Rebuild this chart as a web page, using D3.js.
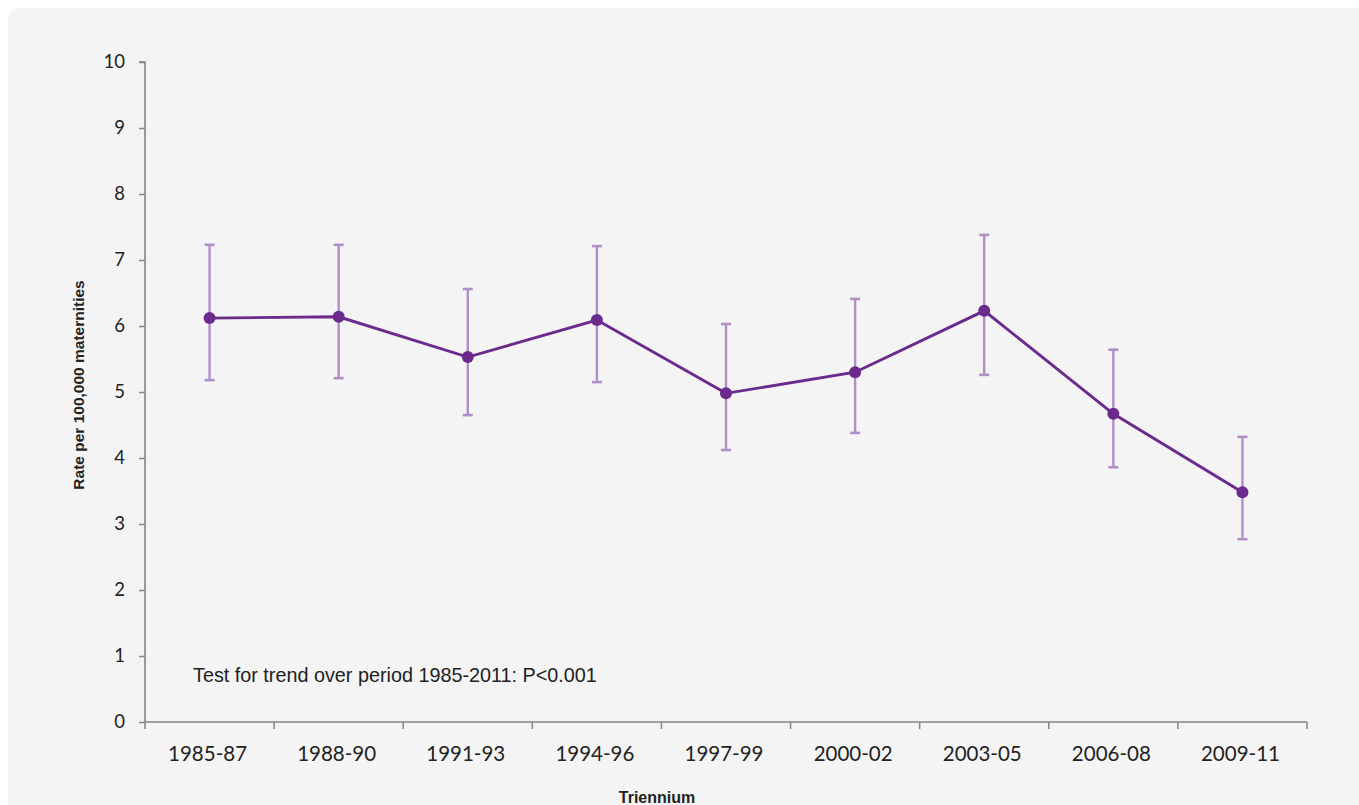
<!DOCTYPE html>
<html>
<head>
<meta charset="utf-8">
<script src="https://cdn.jsdelivr.net/npm/d3@7"></script>
<style>
  html, body { margin: 0; padding: 0; background: #ffffff; }
  svg { display: block; }
</style>
</head>
<body>
<svg id="chart" width="1359" height="805"></svg>
<script>
const categories = ["1985-87","1988-90","1991-93","1994-96","1997-99","2000-02","2003-05","2006-08","2009-11"];
const rates      = [6.12, 6.14, 5.53, 6.09, 4.98, 5.30, 6.23, 4.67, 3.48];
const lowerCI    = [5.18, 5.21, 4.65, 5.15, 4.12, 4.38, 5.26, 3.86, 2.77];
const upperCI    = [7.23, 7.23, 6.56, 7.21, 6.03, 6.41, 7.38, 5.64, 4.32];
const yTicks     = [0,1,2,3,4,5,6,7,8,9,10];
const annotation = "Test for trend over period 1985-2011: P<0.001";
const xTitle = "Triennium";
const yTitle = "Rate per 100,000 maternities";

const svg = d3.select("#chart");
const W = 1359, H = 805;

// background panel
svg.append("rect").attr("x", 8).attr("y", 8).attr("width", W - 8 + 20).attr("height", H)
  .attr("rx", 10).attr("fill", "#f4f4f4");

const pLeft = 145, pRight = 1307, pTop = 62, pBottom = 722;
const x = d3.scaleBand().domain(categories).range([pLeft, pRight]).padding(0);
const y = d3.scaleLinear().domain([0, 10]).range([pBottom, pTop]);

const axisColor = "#868686";

// y axis
const yAxis = svg.append("g").attr("transform", `translate(${pLeft},0)`)
  .call(d3.axisLeft(y).tickValues(yTicks).tickSize(6).tickPadding(14).tickFormat(d3.format("d")));
yAxis.select(".domain").attr("stroke", axisColor).attr("stroke-width", 1.6).attr("d", `M-6,${pTop}H0V${pBottom}`);
yAxis.selectAll(".tick line").attr("stroke", axisColor).attr("stroke-width", 1.5);
yAxis.selectAll(".tick text").attr("fill", "#222").style("font-family", "Lato, 'Open Sans', sans-serif").style("font-size", "18.5px");

// x axis
const xAxis = svg.append("g").attr("transform", `translate(0,${pBottom})`)
  .call(d3.axisBottom(x).tickSize(0).tickPadding(24));
xAxis.select(".domain").attr("stroke", axisColor).attr("stroke-width", 1.6).attr("d", `M${pLeft},0H${pRight}`);
xAxis.selectAll(".tick text").attr("fill", "#222").attr("dx", -2).style("font-family", "Lato, 'Open Sans', sans-serif").style("font-size", "20.5px");
// boundary ticks between categories
const bounds = categories.map(c => x(c)).concat([pRight]);
xAxis.selectAll(".bound").data(bounds).enter().append("line").attr("class", "bound")
  .attr("x1", d => d).attr("x2", d => d).attr("y1", 0).attr("y2", 7)
  .attr("stroke", axisColor).attr("stroke-width", 1.5);

const cx = (i) => x(categories[i]) + x.bandwidth() / 2;
const data = categories.map((c, i) => ({ c, i, v: rates[i], lo: lowerCI[i], hi: upperCI[i] }));

// error bars
const errColor = "#b08fc6";
const eb = svg.append("g");
eb.selectAll(".err").data(data).enter().append("line")
  .attr("x1", d => cx(d.i)).attr("x2", d => cx(d.i))
  .attr("y1", d => y(d.lo)).attr("y2", d => y(d.hi))
  .attr("stroke", errColor).attr("stroke-width", 2.4);
["lo", "hi"].forEach(k => {
  eb.selectAll(".cap" + k).data(data).enter().append("line")
    .attr("x1", d => cx(d.i) - 5).attr("x2", d => cx(d.i) + 5)
    .attr("y1", d => y(d[k])).attr("y2", d => y(d[k]))
    .attr("stroke", errColor).attr("stroke-width", 2.6);
});

// line
const lineColor = "#6b2a8c";
svg.append("path").datum(data)
  .attr("d", d3.line().x(d => cx(d.i)).y(d => y(d.v)))
  .attr("fill", "none").attr("stroke", lineColor).attr("stroke-width", 2.9);

svg.append("g").selectAll("circle").data(data).enter().append("circle")
  .attr("cx", d => cx(d.i)).attr("cy", d => y(d.v)).attr("r", 6)
  .attr("fill", lineColor);

// annotation
svg.append("text").attr("x", 193).attr("y", 682).text(annotation)
  .style("font-family", "Arial, 'Liberation Sans', sans-serif").style("font-size", "19.8px").attr("fill", "#222");

// axis titles
svg.append("text").attr("x", 657).attr("y", 803).attr("text-anchor", "middle").text(xTitle)
  .style("font-family", "Arial, 'Liberation Sans', sans-serif").style("font-size", "16px").style("font-weight", "bold").attr("fill", "#222");
svg.append("text").attr("transform", `translate(84,385) rotate(-90)`).attr("text-anchor", "middle").text(yTitle)
  .style("font-family", "Arial, 'Liberation Sans', sans-serif").style("font-size", "15.5px").style("font-weight", "bold").attr("fill", "#222");
</script>
</body>
</html>
